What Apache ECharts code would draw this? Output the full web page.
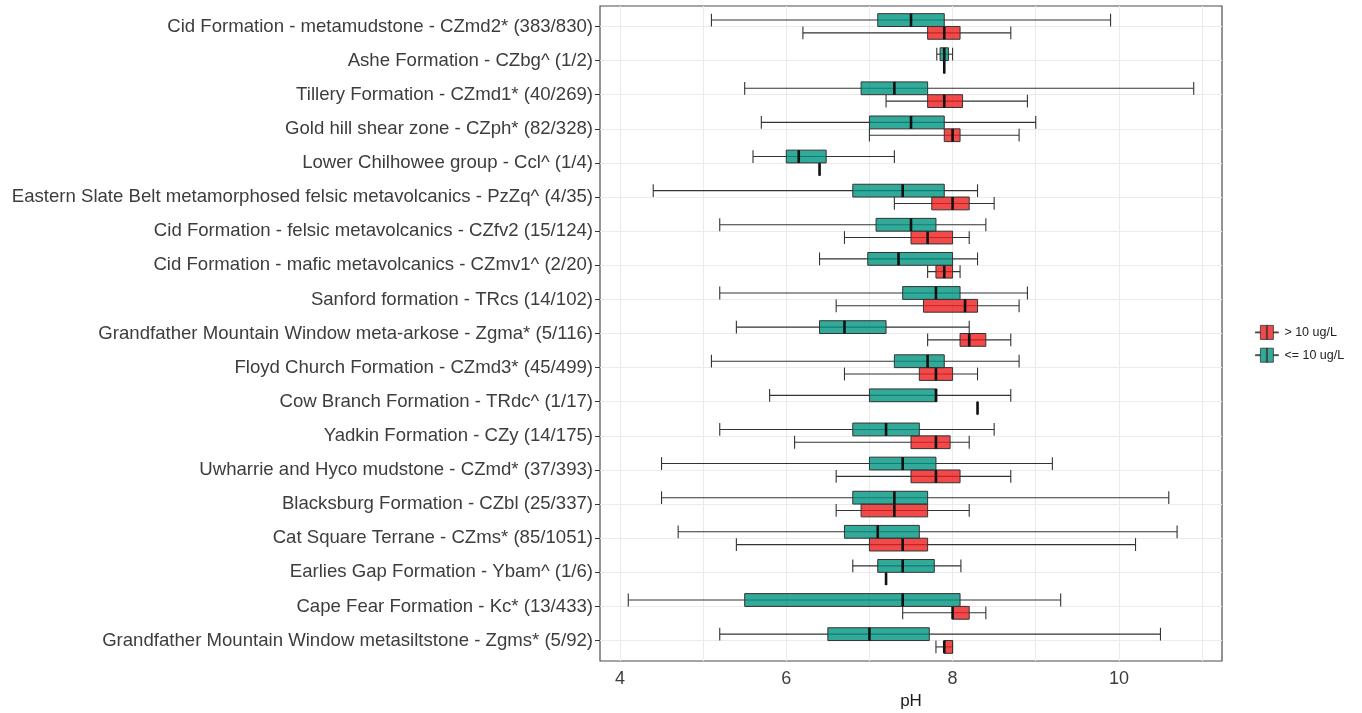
<!DOCTYPE html>
<html><head><meta charset="utf-8">
<script src="https://cdn.jsdelivr.net/npm/echarts@6/dist/echarts.min.js"></script>
<style>html,body{margin:0;padding:0;background:#fff}#c{width:1362px;height:713px}</style>
</head><body><div id="c"></div>
<script>
// Categories, top to bottom
const categories = [
  "Cid Formation - metamudstone - CZmd2* (383/830)",
  "Ashe Formation - CZbg^ (1/2)",
  "Tillery Formation - CZmd1* (40/269)",
  "Gold hill shear zone - CZph* (82/328)",
  "Lower Chilhowee group - Ccl^ (1/4)",
  "Eastern Slate Belt metamorphosed felsic metavolcanics - PzZq^ (4/35)",
  "Cid Formation - felsic metavolcanics - CZfv2 (15/124)",
  "Cid Formation - mafic metavolcanics - CZmv1^ (2/20)",
  "Sanford formation - TRcs (14/102)",
  "Grandfather Mountain Window meta-arkose - Zgma* (5/116)",
  "Floyd Church Formation - CZmd3* (45/499)",
  "Cow Branch Formation - TRdc^ (1/17)",
  "Yadkin Formation - CZy (14/175)",
  "Uwharrie and Hyco mudstone - CZmd* (37/393)",
  "Blacksburg Formation - CZbl (25/337)",
  "Cat Square Terrane - CZms* (85/1051)",
  "Earlies Gap Formation - Ybam^ (1/6)",
  "Cape Fear Formation - Kc* (13/433)",
  "Grandfather Mountain Window metasiltstone - Zgms* (5/92)"
];
// [min, Q1, median, Q3, max] for "<= 10 ug/L"
const lowValues = [
  [5.1, 7.1, 7.5, 7.9, 9.9],
  [7.81, 7.85, 7.9, 7.95, 8.0],
  [5.5, 6.9, 7.3, 7.7, 10.9],
  [5.7, 7.0, 7.5, 7.9, 9.0],
  [5.6, 6.0, 6.15, 6.48, 7.3],
  [4.4, 6.8, 7.4, 7.9, 8.3],
  [5.2, 7.08, 7.5, 7.8, 8.4],
  [6.4, 6.98, 7.35, 8.0, 8.3],
  [5.2, 7.4, 7.8, 8.09, 8.9],
  [5.4, 6.4, 6.7, 7.2, 8.2],
  [5.1, 7.3, 7.7, 7.9, 8.8],
  [5.8, 7.0, 7.8, 7.81, 8.7],
  [5.2, 6.8, 7.2, 7.6, 8.5],
  [4.5, 7.0, 7.4, 7.8, 9.2],
  [4.5, 6.8, 7.3, 7.7, 10.6],
  [4.7, 6.7, 7.1, 7.6, 10.7],
  [6.8, 7.1, 7.4, 7.78, 8.1],
  [4.1, 5.5, 7.4, 8.09, 9.3],
  [5.2, 6.5, 7.0, 7.72, 10.5]
];
// [min, Q1, median, Q3, max] for "> 10 ug/L"
const highValues = [
  [6.2, 7.7, 7.9, 8.09, 8.7],
  [7.9, 7.9, 7.9, 7.9, 7.9],
  [7.2, 7.7, 7.9, 8.12, 8.9],
  [7.0, 7.9, 8.0, 8.09, 8.8],
  [6.4, 6.4, 6.4, 6.4, 6.4],
  [7.3, 7.75, 8.0, 8.2, 8.5],
  [6.7, 7.5, 7.7, 8.0, 8.2],
  [7.7, 7.8, 7.9, 8.0, 8.09],
  [6.6, 7.65, 8.15, 8.3, 8.8],
  [7.7, 8.09, 8.2, 8.4, 8.7],
  [6.7, 7.6, 7.8, 8.0, 8.3],
  [8.3, 8.3, 8.3, 8.3, 8.3],
  [6.1, 7.5, 7.8, 7.97, 8.2],
  [6.6, 7.5, 7.8, 8.09, 8.7],
  [6.6, 6.9, 7.3, 7.7, 8.2],
  [5.4, 7.0, 7.4, 7.7, 10.2],
  [7.2, 7.2, 7.2, 7.2, 7.2],
  [7.4, 8.0, 8.0, 8.2, 8.4],
  [7.8, 7.9, 7.9, 8.0, 8.0]
];
const xTickValues = [4, 6, 8, 10];
const xGridValues = [4, 5, 6, 7, 8, 9, 10, 11];
const seriesNames = ["> 10 ug/L", "<= 10 ug/L"];

const FONT = "'Liberation Sans', Arial, sans-serif";
const HIGH_FILL = 'rgba(236,29,29,0.8)';
const LOW_FILL = 'rgba(0,148,129,0.8)';

const catIndex = categories.map((c, i) => i);
function toData(arr) { return arr.map((v, i) => [i].concat(v)); }

function makeRender(sign, fill) {
  return function (params, api) {
    const ci = api.value(0);
    const band = Math.abs(api.size([0, 1])[1]);
    const h = band * 0.375;
    const yc = api.coord([api.value(1), ci])[1] + sign * h / 2;
    const px = i => api.coord([api.value(i), ci])[0];
    const xMin = px(1), xQ1 = px(2), xMed = px(3), xQ3 = px(4), xMax = px(5);
    const top = yc - h / 2, bot = yc + h / 2;
    const lineStyle = { stroke: '#333', lineWidth: 1.1 };
    return {
      type: 'group',
      children: [
        { type: 'line', shape: { x1: xMin, y1: yc, x2: xMax, y2: yc }, style: lineStyle },
        { type: 'line', shape: { x1: xMin, y1: top, x2: xMin, y2: bot }, style: lineStyle },
        { type: 'line', shape: { x1: xMax, y1: top, x2: xMax, y2: bot }, style: lineStyle },
        { type: 'rect', shape: { x: xQ1, y: top, width: xQ3 - xQ1, height: h },
          style: { fill: fill, stroke: '#333', lineWidth: 1 } },
        { type: 'line', shape: { x1: xMed, y1: top, x2: xMed, y2: bot },
          style: { stroke: '#111', lineWidth: 2.6 } }
      ]
    };
  };
}

const gridLines = xGridValues.map(v => ({ xAxis: v }))
  .concat(catIndex.map(i => ({ yAxis: i })));

const iconPath = 'path://M0,6.5L5,6.5L5,7.5L0,7.5Z M5,0L18,0L18,14L5,14Z M11,0L12,0L12,14L11,14Z M18,6.5L23,6.5L23,7.5L18,7.5Z';

const chart = echarts.init(document.getElementById('c'), null, { renderer: 'canvas' });
chart.setOption({
  animation: false,
  backgroundColor: '#fff',
  textStyle: { fontFamily: FONT },
  grid: {
    left: 600, right: 140, top: 6, bottom: 52,
    outerBoundsMode: 'none', containLabel: false,
    show: true, borderColor: '#4d4d4d', borderWidth: 1.2, backgroundColor: '#fff'
  },
  legend: {
    orient: 'vertical', left: 1250, top: 320,
    itemWidth: 23, itemHeight: 14, itemGap: 8,
    textStyle: { fontSize: 12.5, color: '#222', fontFamily: FONT, padding: [0, 0, 0, 1] },
    data: [
      { name: seriesNames[0], icon: iconPath, itemStyle: { color: '#f04a4a', borderColor: '#333', borderWidth: 0.8 } },
      { name: seriesNames[1], icon: iconPath, itemStyle: { color: '#33a99a', borderColor: '#333', borderWidth: 0.8 } }
    ]
  },
  xAxis: {
    type: 'value', min: 3.76, max: 11.24,
    axisLine: { show: false },
    splitLine: { show: false },
    axisTick: { show: true, length: 4, customValues: xTickValues, lineStyle: { color: '#333' } },
    axisLabel: { customValues: xTickValues, fontSize: 18, color: '#3d3d3d', margin: 9, fontFamily: FONT },
    name: 'pH', nameLocation: 'middle', nameGap: 31,
    nameTextStyle: { fontSize: 17, color: '#1a1a1a', fontFamily: FONT }
  },
  yAxis: {
    type: 'value', min: -0.6, max: 18.6, inverse: true,
    axisLine: { show: false },
    splitLine: { show: false },
    axisTick: { show: true, length: 5, customValues: catIndex, lineStyle: { color: '#333' } },
    axisLabel: {
      customValues: catIndex, fontSize: 18.6, color: '#3d3d3d', margin: 7, fontFamily: FONT,
      formatter: v => categories[Math.round(v)]
    }
  },
  series: [
    {
      name: seriesNames[0], type: 'custom', z: 3,
      itemStyle: { color: '#f04a4a' },
      renderItem: makeRender(1, HIGH_FILL),
      encode: { x: [1, 2, 3, 4, 5], y: 0 },
      data: toData(highValues)
    },
    {
      name: seriesNames[1], type: 'custom', z: 3,
      itemStyle: { color: '#33a99a' },
      renderItem: makeRender(-1, LOW_FILL),
      encode: { x: [1, 2, 3, 4, 5], y: 0 },
      data: toData(lowValues),
      markLine: {
        silent: true, z: 1, symbol: ['none', 'none'], animation: false,
        label: { show: false }, emphasis: { disabled: true },
        lineStyle: { color: '#ebebeb', width: 1, type: 'solid' },
        data: gridLines
      }
    }
  ]
});
</script>
</body></html>
